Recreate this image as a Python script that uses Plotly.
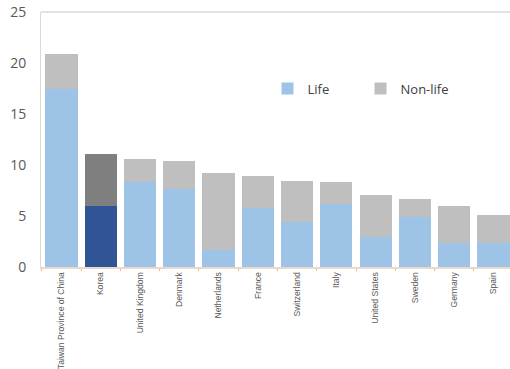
import plotly.graph_objects as go

# Insurance premiums as a share of GDP, split into life and non-life
countries = ["Taiwan Province of China", "Korea", "United Kingdom", "Denmark",
             "Netherlands", "France", "Switzerland", "Italy", "United States",
             "Sweden", "Germany", "Spain"]
life = [17.5, 6.0, 8.3, 7.6, 1.7, 5.8, 4.4, 6.2, 2.9, 4.9, 2.4, 2.4]
total = [20.9, 11.1, 10.6, 10.4, 9.2, 8.9, 8.4, 8.3, 7.1, 6.7, 6.0, 5.1]
non_life = [round(t - l, 2) for t, l in zip(total, life)]

highlight = "Korea"
life_colors = ["#2F5597" if c == highlight else "#9DC3E6" for c in countries]
nonlife_colors = ["#7F7F7F" if c == highlight else "#BFBFBF" for c in countries]

fig = go.Figure()
fig.add_trace(go.Bar(x=countries, y=life, name="Life",
                     marker=dict(color=life_colors, line=dict(width=0))))
fig.add_trace(go.Bar(x=countries, y=non_life, name="Non-life",
                     marker=dict(color=nonlife_colors, line=dict(width=0))))

fig.update_layout(
    width=510, height=369,
    margin=dict(l=41, r=0, t=12, b=102, autoexpand=False),
    barmode="stack", bargap=0.18,
    plot_bgcolor="white", paper_bgcolor="white",
    font=dict(family="Open Sans", color="#595959"),
    showlegend=True,
    legend=dict(orientation="h", x=0.483, y=0.70, xanchor="left", yanchor="middle",
                traceorder="normal",
                entrywidth=48, entrywidthmode="pixels",
                font=dict(size=13, color="#404040"), bgcolor="rgba(0,0,0,0)"),
    # thin frame line along the top of the plotting area
    shapes=[dict(type="line", xref="paper", yref="paper", x0=0, x1=1, y0=1, y1=1,
                 line=dict(color="#D9D9D9", width=1.5))],
)
fig.update_xaxes(
    range=[-0.52, 11.42], tickangle=-90,
    tickfont=dict(size=8.6, family="Liberation Sans Narrow, Liberation Sans", color="#595959"),
    showline=True, linecolor="#EAD8C8", linewidth=1.5,
    ticks="outside", tickson="boundaries", ticklen=2, tickcolor="#F4B183",
    showgrid=False,
)
fig.update_yaxes(
    range=[0, 25], dtick=5,
    tickfont=dict(size=14, color="#595959"),
    showline=True, linecolor="#D9D9D9", linewidth=1,
    showgrid=False, zeroline=False,
    ticks="outside", ticklen=11, tickcolor="rgba(0,0,0,0)",
)

fig.write_html("out.html")
